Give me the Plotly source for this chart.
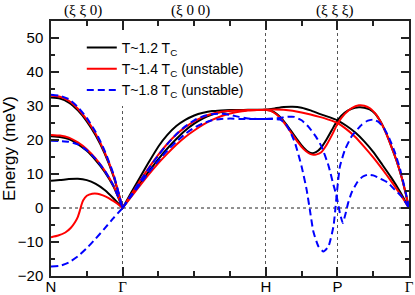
import plotly.graph_objects as go

# ---------------- data (path coordinate: N=0, Γ=0.2, H=0.6, P=0.8, Γ=1.0) -------------
tick_pos = [0.0, 0.2, 0.6, 0.8, 1.0]
tick_labels = ["N", "<span style='font-family:Liberation Serif'>Γ</span>", "H", "P",
               "<span style='font-family:Liberation Serif'>Γ</span>"]
minor_pos = [0.1, 0.3, 0.4, 0.5, 0.7, 0.9]
dir_labels = ["(ξ ξ 0)", "(ξ 0 0)", "(ξ ξ ξ)"]
dir_label_pos = [0.09, 0.39, 0.793]

# N -> Γ
x_ng = [0.0, 0.025, 0.05, 0.075, 0.1, 0.125, 0.15, 0.175, 0.2]
t12_ng_1 = [32.5, 32.2, 31.0, 28.7, 25.5, 21.3, 16.0, 9.2, 0.0]
t12_ng_2 = [21.1, 20.9, 20.3, 18.8, 16.8, 14.0, 10.6, 6.2, 0.0]
t12_ng_3 = [8.0, 8.2, 8.5, 8.6, 8.2, 7.1, 5.3, 2.8, 0.0]
t14_ng_1 = [33.0, 32.7, 31.5, 29.2, 26.0, 21.8, 16.4, 9.5, 0.0]
t14_ng_2 = [21.5, 21.3, 20.7, 19.3, 17.3, 14.5, 11.0, 6.5, 0.0]
x_ng_t14_3 = [0.0, 0.02, 0.04, 0.055, 0.067, 0.075, 0.08, 0.085, 0.09, 0.1, 0.115,
              0.13, 0.145, 0.16, 0.175, 0.19, 0.2]
t14_ng_3 = [-8.6, -8.1, -7.2, -5.9, -4.2, -2.6, -1.0, 0.9, 2.3, 3.6, 4.2, 4.2, 3.7, 3.0,
            2.0, 0.9, 0.0]
t18_ng_1 = [33.3, 33.0, 32.0, 29.7, 26.5, 22.3, 16.8, 9.8, 0.0]
t18_ng_2 = [19.8, 19.7, 19.5, 18.7, 17.0, 14.4, 11.0, 6.5, 0.0]
t18_ng_3 = [-17.2, -17.0, -16.0, -14.2, -11.8, -9.0, -6.0, -2.9, 0.0]

# Γ -> H
x_gh = [0.2, 0.225, 0.25, 0.275, 0.3, 0.325, 0.35, 0.375, 0.4, 0.425, 0.45, 0.475,
        0.5, 0.525, 0.55, 0.575, 0.6]
t12_gh_1 = [0, 4.7, 9.3, 13.8, 18.1, 21.5, 24.1, 25.9, 27.2, 28.0, 28.5, 28.7, 28.8, 28.8, 28.8, 28.8, 28.9]
t12_gh_2 = [0, 3.7, 7.4, 11.0, 14.4, 17.5, 20.3, 22.8, 24.8, 26.4, 27.5, 28.2, 28.6, 28.8, 28.9, 28.9, 28.9]
t14_gh_1 = [0, 4.1, 8.2, 12.1, 15.7, 18.9, 21.6, 23.8, 25.5, 26.8, 27.7, 28.3, 28.6, 28.7, 28.8, 28.8, 28.9]
t14_gh_2 = [0, 3.4, 6.8, 10.1, 13.2, 16.0, 18.6, 20.9, 22.8, 24.5, 25.9, 27.0, 27.8, 28.3, 28.7, 28.8, 28.9]
t18_gh_1 = [0, 4.0, 8.0, 11.9, 15.5, 18.8, 21.7, 24.0, 25.8, 27.0, 27.6, 27.7, 27.4, 26.8, 26.3, 26.2, 26.2]
t18_gh_2 = [0, 3.6, 7.2, 10.7, 13.9, 16.9, 19.5, 21.8, 23.6, 24.9, 25.8, 26.2, 26.3, 26.2, 26.2, 26.2, 26.2]

# H -> P -> Γ
x_hg_1 = [0.6, 0.625, 0.65, 0.675, 0.7, 0.725, 0.75, 0.775, 0.8, 0.825, 0.85, 0.875,
          0.9, 0.925, 0.95, 0.975, 1.0]
t12_hg_1 = [28.9, 29.3, 29.7, 29.8, 29.5, 28.7, 27.7, 26.8, 25.8, 24.2, 22.2, 19.6, 16.5, 12.8, 9.0, 4.8, 0.0]
t14_hg_1 = [28.9, 29.0, 28.9, 28.6, 28.1, 27.5, 26.8, 26.0, 25.0, 23.2, 20.9, 18.0, 14.9, 11.5, 7.9, 4.1, 0.0]
x_hg_2 = [0.6, 0.615, 0.63, 0.645, 0.66, 0.675, 0.69, 0.705, 0.72, 0.73, 0.74, 0.755,
          0.77, 0.785, 0.8, 0.82, 0.84, 0.86, 0.875, 0.89, 0.905, 0.92, 0.935, 0.95,
          0.965, 0.98, 0.99, 1.0]
t12_hg_2 = [28.9, 28.6, 27.7, 26.2, 24.2, 22.0, 19.8, 17.8, 16.4, 16.1, 16.4, 17.8, 20.2, 23.0,
            25.8, 28.0, 29.2, 29.6, 29.5, 29.0, 27.8, 25.5, 22.3, 18.3, 14.0, 8.8, 4.6, 0.0]
t14_hg_2 = [28.9, 28.5, 27.5, 25.9, 23.8, 21.5, 19.3, 17.4, 16.1, 15.7, 15.7, 16.4, 18.6, 21.5,
            24.7, 27.6, 29.4, 30.2, 30.1, 29.4, 27.9, 25.5, 22.2, 18.3, 14.0, 8.8, 4.6, 0.0]
x_t18_hg_a = [0.6, 0.62, 0.64, 0.655, 0.668, 0.682, 0.7, 0.714, 0.723, 0.733, 0.747, 0.761,
              0.775, 0.789, 0.795, 0.8, 0.807, 0.821, 0.84, 0.868, 0.885, 0.9, 0.915, 0.93,
              0.945, 0.96, 0.975, 0.99, 1.0]
t18_hg_a = [26.2, 26.2, 26.0, 24.8, 22.5, 19.0, 12.2, 5.4, -0.5, -7.0, -11.3, -12.8, -11.3, -5.4,
            0.5, 6.0, 12.2, 17.1, 21.1, 24.5, 25.7, 26.0, 25.3, 23.5, 20.5, 16.5, 11.5, 5.0, 0.0]
x_t18_hg_b = [0.6, 0.62, 0.64, 0.66, 0.68, 0.7, 0.72, 0.74, 0.756, 0.775, 0.789, 0.798, 0.807,
              0.815, 0.822, 0.83, 0.84, 0.855, 0.87, 0.885, 0.9, 0.92, 0.94, 0.96, 0.98, 1.0]
t18_hg_b = [26.2, 26.3, 26.5, 26.8, 26.8, 25.8, 23.8, 21.0, 18.0, 12.5, 6.8, 3.4, -1.5, -4.4,
            -2.0, 1.5, 4.6, 7.5, 9.2, 9.8, 9.6, 8.6, 7.5, 5.4, 3.3, 0.0]

series_names = ["T~1.2 T<sub>C</sub>", "T~1.4 T<sub>C</sub> (unstable)", "T~1.8 T<sub>C</sub> (unstable)"]
series_colors = ["#000000", "#ff0000", "#0000ff"]
series_dash = ["solid", "solid", "7px,4px"]

branches = [
    [(x_ng, t12_ng_1), (x_ng, t12_ng_2), (x_ng, t12_ng_3), (x_gh, t12_gh_1), (x_gh, t12_gh_2),
     (x_hg_1, t12_hg_1), (x_hg_2, t12_hg_2)],
    [(x_ng, t14_ng_1), (x_ng, t14_ng_2), (x_ng_t14_3, t14_ng_3), (x_gh, t14_gh_1), (x_gh, t14_gh_2),
     (x_hg_1, t14_hg_1), (x_hg_2, t14_hg_2)],
    [(x_ng, t18_ng_1), (x_ng, t18_ng_2), (x_ng, t18_ng_3), (x_gh, t18_gh_1), (x_gh, t18_gh_2),
     (x_t18_hg_a, t18_hg_a), (x_t18_hg_b, t18_hg_b)],
]

fig = go.Figure()
for name, color, dash, brs in zip(series_names, series_colors, series_dash, branches):
    xs, ys = [], []
    for bx, by in brs:
        xs += list(bx) + [None]
        ys += list(by) + [None]
    fig.add_trace(go.Scatter(x=xs, y=ys, mode="lines", name=name, connectgaps=False,
                             line=dict(color=color, width=2, dash=dash, shape="spline", smoothing=0.5)))

fig.add_hline(y=0, line=dict(color="#222", width=1, dash="dot"), layer="below")

for txt, xp in zip(dir_labels, dir_label_pos):
    fig.add_annotation(x=xp, y=1.043, xref="x", yref="paper", text=txt, showarrow=False,
                       font=dict(family="Liberation Serif", size=15, color="black"),
                       xanchor="center", yanchor="middle")

axis_common = dict(showline=True, linecolor="#222", linewidth=1.5, mirror="ticks",
                   ticks="inside", tickcolor="#222", zeroline=False, automargin=False)

fig.update_layout(
    width=415, height=295,
    margin=dict(l=51, r=6, t=21, b=19),
    paper_bgcolor="white", plot_bgcolor="white",
    font=dict(family="Liberation Sans, Arial", color="black"),
    showlegend=True,
    legend=dict(x=0.086, y=0.957, xanchor="left", yanchor="top", bgcolor="white",
                borderwidth=0, font=dict(size=14), tracegroupgap=0),
    xaxis=dict(range=[0, 1], tickmode="array", tickvals=tick_pos, ticktext=tick_labels,
               ticklen=9, tickwidth=1.5, tickfont=dict(size=15), ticklabelstandoff=-4,
               showgrid=True, gridcolor="#555", griddash="dot", gridwidth=1,
               minor=dict(tickmode="array", tickvals=minor_pos, ticks="inside", ticklen=5,
                          tickcolor="#222", showgrid=False),
               **axis_common),
    yaxis=dict(range=[-20, 55], tickmode="linear", tick0=0, dtick=10, ticklen=8, tickwidth=1.5,
               tickfont=dict(size=15), showgrid=False, ticklabelstandoff=3,
               minor=dict(dtick=5, ticks="inside", ticklen=4, tickcolor="#222"),
               title=dict(text="Energy (meV)", font=dict(size=17), standoff=4),
               **axis_common),
)

fig.write_html("out.html", config={"displayModeBar": False},
               post_script="document.body.style.margin='0px';")
